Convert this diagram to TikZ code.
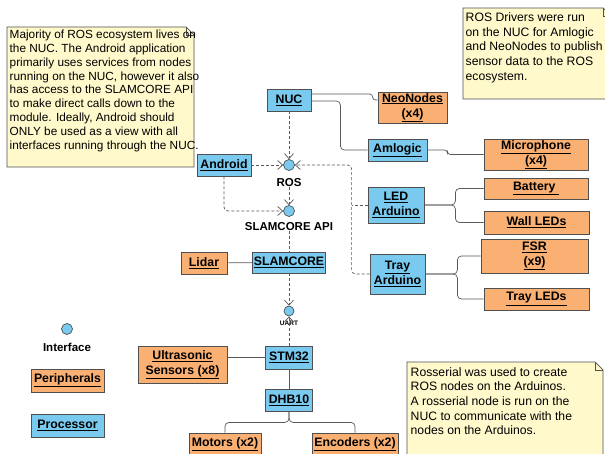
\documentclass[tikz,border=0pt]{standalone}
\usepackage{fontspec}
\setmainfont{Liberation Sans}
\usetikzlibrary{arrows.meta,calc}
\definecolor{procblue}{RGB}{122,202,240}
\definecolor{periorange}{RGB}{250,176,114}
\definecolor{notey}{RGB}{255,249,204}
\definecolor{edgegray}{RGB}{80,80,80}
\definecolor{linegray}{RGB}{90,90,90}
\begin{document}
\begin{tikzpicture}[x=1pt,y=-1pt,
  box/.style={draw=edgegray, line width=0.8pt, inner sep=0pt, align=center, font=\fontsize{12.3}{15}\selectfont\bfseries},
  proc/.style={box, fill=procblue},
  peri/.style={box, fill=periorange},
  wh/.style 2 args={minimum width=#1pt, minimum height=#2pt},
  iface/.style={circle, draw=edgegray, fill=procblue, line width=0.7pt, minimum size=11pt, inner sep=0pt},
  ilabel/.style={font=\fontsize{11.5}{13}\selectfont\bfseries, inner sep=0pt},
  notetext/.style={anchor=north west, inner sep=0pt, align=left, font=\fontsize{11.8}{13.8}\selectfont},
  notebox/.style={fill=notey, draw=edgegray, line width=0.7pt},
  notefold/.style={draw=edgegray, line width=0.6pt},
  link/.style={draw=linegray, line width=0.7pt},
  dlink/.style={draw=linegray, line width=0.7pt, dash pattern=on 3pt off 2pt},
  openarrow/.style={-{Straight Barb[length=5pt,width=9pt]}}
]
\fill[white] (0,0) rectangle (605,454);
\useasboundingbox (0,0) rectangle (605,454);

% notes
\draw[notebox] (7,27) -- (186,27) -- (194,35) -- (194,167) -- (7,167) -- cycle;
\draw[notefold] (186,27) -- (186,35) -- (194,35);
\node[notetext] (N1) at (9.5,30) {Majority of ROS ecosystem lives on\\the NUC. The Android application\\primarily uses services from nodes\\running on the NUC, however it also\\has access to the SLAMCORE API\\to make direct calls down to the\\module. Ideally, Android should\\ONLY be used as a view with all\\interfaces running through the NUC.};

\draw[notebox] (463,8) -- (603,8) -- (611,16) -- (611,99) -- (463,99) -- cycle;
\draw[notefold] (603,8) -- (603,16) -- (611,16);
\node[notetext, font=\fontsize{12.2}{14.7}\selectfont] (N2) at (465.5,12.5) {ROS Drivers were run\\on the NUC for Amlogic\\and NeoNodes to publish\\sensor data to the ROS\\ecosystem.};

\draw[notebox] (407,362) -- (595,362) -- (603,370) -- (603,460) -- (407,460) -- cycle;
\draw[notefold] (595,362) -- (595,370) -- (603,370);
\node[notetext, font=\fontsize{12.2}{14.7}\selectfont] (N3) at (410.5,367) {Rosserial was used to create\\ROS nodes on the Arduinos.\\A rosserial node is run on the\\NUC to communicate with the\\nodes on the Arduinos.};

% nodes
\node[proc, wh={44}{22}] (NUC) at (289,100) {\underline{NUC}};
\node[peri, wh={69}{31}] (Neo) at (412.5,107.5) {\underline{NeoNodes}\\\underline{(x4)}};
\node[proc, wh={59}{22}] (Aml) at (397.5,150) {\underline{Amlogic}};
\node[peri, wh={104}{31}] (Mic) at (536,154.5) {\underline{Microphone}\\\underline{(x4)}};
\node[peri, wh={104}{21}] (Bat) at (536,188.5) {\underline{Battery\ }};
\node[peri, wh={105}{23}] (Wall) at (536.5,222.5) {\underline{Wall LEDs}};
\node[proc, wh={56}{36}] (LED) at (396,205) {\underline{LED}\\\underline{Arduino}};
\node[peri, wh={107}{34}] (FSR) at (534.5,256) {\underline{FSR}\\\underline{(x9)}};
\node[peri, wh={105}{22}] (TLED) at (536.5,299) {\underline{Tray LEDs}};
\node[proc, wh={55}{40}] (Tray) at (397.5,274) {\underline{Tray}\\\underline{Arduino}};
\node[proc, wh={54}{22}] (And) at (224,165) {\underline{Android}};
\node[iface] (ROS) at (289,165) {};
\node[ilabel] (ROSl) at (289,183) {ROS};
\node[iface] (API) at (289,211) {};
\node[ilabel] (APIl) at (289,227) {SLAMCORE API};
\node[proc, wh={73}{21}] (SC) at (289,262.5) {\underline{SLAMCORE}};
\node[peri, wh={46}{22}] (Lidar) at (204,263) {\underline{Lidar}};
\node[iface, minimum size=10pt] (UART) at (289,311) {};
\node[font=\fontsize{6.5}{7}\selectfont\bfseries, inner sep=0pt] (UARTl) at (289,323) {UART};
\node[proc, wh={47}{23}] (STM) at (289,357.5) {\underline{STM32}};
\node[peri, wh={89}{37}] (Ultra) at (182.5,364.5) {\underline{Ultrasonic}\\\underline{Sensors (x8)}};
\node[proc, wh={47}{22}] (DHB) at (289,400) {\underline{DHB10}};
\node[peri, wh={72}{22}] (Mot) at (225,444) {\underline{Motors (x2)}};
\node[peri, wh={86}{22}] (Enc) at (355,444) {\underline{Encoders (x2)}};

% legend
\node[iface] (LegI) at (67,329) {};
\node[ilabel] (LegIl) at (67,347) {Interface};
\node[peri, wh={73}{23}] (LegP) at (67.5,380.5) {\underline{Peripherals}};
\node[proc, wh={73}{23}] (LegPr) at (67.5,425.5) {\underline{Processor}};

% solid connectors
\draw[link, rounded corners=3pt] ([yshift=6pt]NUC.east) -| ([xshift=-5pt,yshift=7.5pt]Neo.west) -- ([yshift=7.5pt]Neo.west);
\draw[link, rounded corners=4pt] ([yshift=-1pt]NUC.east) -- ++(29,0) |- (Aml.west);
\draw[link, rounded corners=3pt] (Aml.east) -- ++(20,0) |- (Mic.west);
\draw[link, rounded corners=4pt] (LED.east) -- ++(31,0) |- (Bat.west);
\draw[link, rounded corners=4pt] (LED.east) -- ++(31,0) |- (Wall.west);
\draw[link, rounded corners=4pt] (Tray.east) -- ++(32,0) |- (FSR.west);
\draw[link, rounded corners=4pt] (Tray.east) -- ++(32,0) |- (TLED.west);
\draw[link] (Lidar) -- (SC);
\draw[link] (STM.west) -- (STM.west -| Ultra.east);
\draw[link] (STM) -- (DHB);
\draw[link, rounded corners=4pt] (DHB.south) -- ++(0,11) -| (Mot.north);
\draw[link, rounded corners=4pt] (DHB.south) -- ++(0,11) -| (Enc.north);

% dashed connectors
\draw[dlink, openarrow] (NUC.south) -- (ROS.north);
\draw[dlink, openarrow] (And.east) -- (ROS.west);
\draw[dlink, openarrow, rounded corners=4pt] (And.south) |- (API.west);
\draw[dlink, openarrow] (ROSl.south) -- (API.north);
\draw[dlink] (APIl.south) -- (SC.north);
\draw[dlink, openarrow] (SC.south) -- (UART.north);
\draw[dlink, openarrow] (STM.north) -- (UART.south);
\draw[dlink, openarrow, rounded corners=4pt] (Tray.west) -- ++(-18,0) |- (ROS.east);
\draw[dlink] (LED.west) -- ++(-16,0);
\end{tikzpicture}
\end{document}
